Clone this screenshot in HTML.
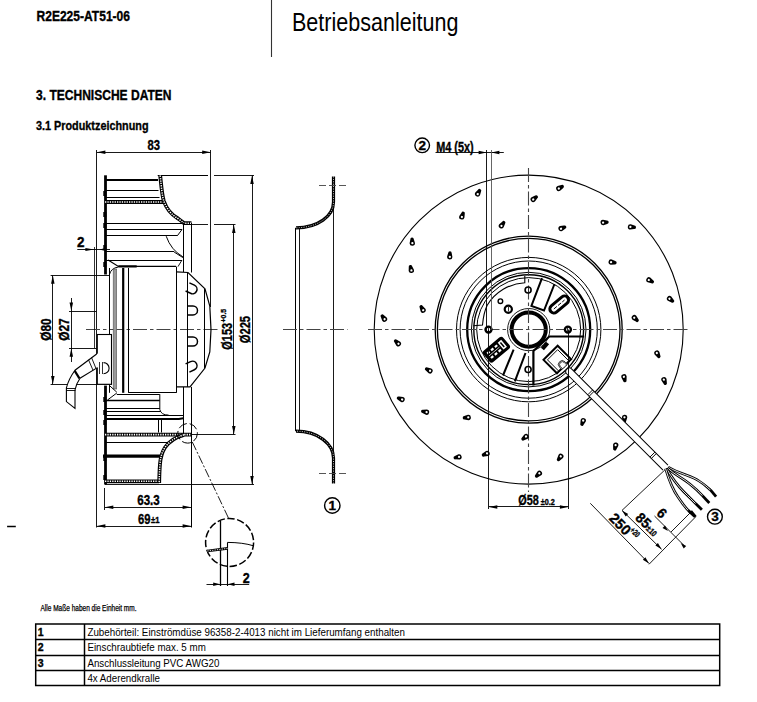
<!DOCTYPE html>
<html><head><meta charset="utf-8"><style>
html,body{margin:0;padding:0;background:#fff;}
body{width:757px;height:702px;overflow:hidden;position:relative;}
svg{position:absolute;left:0;top:0;font-family:"Liberation Sans",sans-serif;}
</style></head><body>
<svg width="757" height="702" viewBox="0 0 757 702">
<text x="36.5" y="21.3" font-size="14.3" font-weight="bold" stroke="#000" stroke-width="0.35" textLength="93.5" lengthAdjust="spacingAndGlyphs" text-anchor="start" fill="#000">R2E225-AT51-06</text>
<line x1="271.5" y1="0" x2="271.5" y2="57" stroke="#333" stroke-width="1.1" stroke-linecap="butt"/>
<text x="292" y="30.7" font-size="25" textLength="166.5" lengthAdjust="spacingAndGlyphs" text-anchor="start" fill="#000">Betriebsanleitung</text>
<text x="36" y="99.9" font-size="14.3" font-weight="bold" stroke="#000" stroke-width="0.35" textLength="135.5" lengthAdjust="spacingAndGlyphs" text-anchor="start" fill="#000">3. TECHNISCHE DATEN</text>
<text x="36" y="130" font-size="12.8" font-weight="bold" stroke="#000" stroke-width="0.35" textLength="112.5" lengthAdjust="spacingAndGlyphs" text-anchor="start" fill="#000">3.1 Produktzeichnung</text>
<line x1="96.5" y1="150" x2="96.5" y2="527.5" stroke="#000" stroke-width="0.9" stroke-linecap="butt"/>
<line x1="210.5" y1="150" x2="210.5" y2="307" stroke="#000" stroke-width="0.9" stroke-linecap="butt"/>
<line x1="96.9" y1="152.5" x2="210.7" y2="152.5" stroke="#000" stroke-width="0.9" stroke-linecap="butt"/>
<path d="M96.9 152.3 L105.4 150.55 L105.4 154.05Z" fill="#000"/>
<path d="M210.7 152.3 L202.2 154.05 L202.2 150.55Z" fill="#000"/>
<text x="153.8" y="150.4" font-size="14.3" font-weight="bold" stroke="#000" stroke-width="0.35" textLength="12.5" lengthAdjust="spacingAndGlyphs" text-anchor="middle" fill="#000">83</text>
<line x1="157.7" y1="175.5" x2="208" y2="175.5" stroke="#000" stroke-width="1.1" stroke-linecap="butt"/>
<line x1="214" y1="175.5" x2="254" y2="175.5" stroke="#000" stroke-width="0.9" stroke-linecap="butt"/>
<line x1="104.8" y1="484.5" x2="254" y2="484.5" stroke="#000" stroke-width="0.9" stroke-linecap="butt"/>
<line x1="252.5" y1="175.4" x2="252.5" y2="484.4" stroke="#000" stroke-width="0.9" stroke-linecap="butt"/>
<path d="M252 175.4 L253.75 183.9 L250.25 183.9Z" fill="#000"/>
<path d="M252 484.4 L250.25 475.9 L253.75 475.9Z" fill="#000"/>
<text x="249.9" y="343.3" font-size="14.3" font-weight="bold" stroke="#000" stroke-width="0.35" textLength="27.4" lengthAdjust="spacingAndGlyphs" text-anchor="start" transform="rotate(-90 249.9 343.3)" fill="#000">Ø225</text>
<line x1="191" y1="224.5" x2="208" y2="224.5" stroke="#000" stroke-width="0.9" stroke-linecap="butt"/>
<line x1="214" y1="224.5" x2="235.5" y2="224.5" stroke="#000" stroke-width="0.9" stroke-linecap="butt"/>
<line x1="191.3" y1="434.5" x2="235.5" y2="434.5" stroke="#000" stroke-width="0.9" stroke-linecap="butt"/>
<line x1="233.5" y1="224.4" x2="233.5" y2="434.4" stroke="#000" stroke-width="0.9" stroke-linecap="butt"/>
<path d="M233.8 224.4 L235.55 232.9 L232.05 232.9Z" fill="#000"/>
<path d="M233.8 434.4 L232.05 425.9 L235.55 425.9Z" fill="#000"/>
<text x="231.9" y="349.8" font-size="14.3" font-weight="bold" stroke="#000" stroke-width="0.35" textLength="27" lengthAdjust="spacingAndGlyphs" text-anchor="start" transform="rotate(-90 231.9 349.8)" fill="#000">Ø153</text>
<text x="226.4" y="322.4" font-size="8" font-weight="bold" stroke="#000" stroke-width="0.35" textLength="13.5" lengthAdjust="spacingAndGlyphs" text-anchor="start" transform="rotate(-90 226.4 322.4)" fill="#000">+0.5</text>
<line x1="86" y1="329.5" x2="218" y2="329.5" stroke="#444" stroke-width="1.1" stroke-dasharray="14 3 3.5 3" stroke-linecap="butt"/>
<line x1="105.5" y1="175.3" x2="105.5" y2="274.5" stroke="#000" stroke-width="2.8" stroke-linecap="butt"/>
<line x1="105.5" y1="385.6" x2="105.5" y2="484.4" stroke="#000" stroke-width="2.8" stroke-linecap="butt"/>
<rect x="103.3" y="191" width="3" height="5" fill="#000"/>
<rect x="103.3" y="212" width="3" height="5" fill="#000"/>
<rect x="103.3" y="223" width="3" height="5" fill="#000"/>
<rect x="103.3" y="245" width="3" height="5" fill="#000"/>
<rect x="103.3" y="262" width="3" height="5" fill="#000"/>
<rect x="103.3" y="397" width="3" height="5" fill="#000"/>
<rect x="103.3" y="410" width="3" height="5" fill="#000"/>
<rect x="103.3" y="420" width="3" height="5" fill="#000"/>
<rect x="103.3" y="456" width="3" height="5" fill="#000"/>
<rect x="103.3" y="475" width="3" height="5" fill="#000"/>
<line x1="105" y1="179.9" x2="158" y2="179.9" stroke="#000" stroke-width="2.0" stroke-linecap="butt"/>
<line x1="105" y1="190.5" x2="158.5" y2="190.5" stroke="#000" stroke-width="1.1" stroke-linecap="butt"/>
<line x1="105" y1="197.5" x2="159.5" y2="197.5" stroke="#000" stroke-width="1.1" stroke-linecap="butt"/>
<line x1="105" y1="202" x2="163" y2="202" stroke="#000" stroke-width="3.8" stroke-linecap="butt"/>
<line x1="105" y1="202" x2="163" y2="202" stroke="#fff" stroke-width="1.6" stroke-dasharray="1.3 1.1" stroke-linecap="butt"/>
<line x1="105" y1="223.5" x2="183.5" y2="223.5" stroke="#000" stroke-width="1.1" stroke-linecap="butt"/>
<line x1="105" y1="229.5" x2="182" y2="229.5" stroke="#000" stroke-width="1.1" stroke-linecap="butt"/>
<line x1="182" y1="229.5" x2="177.3" y2="235.8" stroke="#000" stroke-width="1.0" stroke-linecap="butt"/>
<line x1="105" y1="235.5" x2="177.3" y2="235.5" stroke="#000" stroke-width="1.1" stroke-linecap="butt"/>
<path d="M166.2 236.2 Q171 250 182.9 256.8" stroke="#000" stroke-width="1.0" fill="none" />
<line x1="105" y1="251.5" x2="174.1" y2="251.5" stroke="#000" stroke-width="1.1" stroke-linecap="butt"/>
<line x1="174.1" y1="252" x2="182.9" y2="257.6" stroke="#000" stroke-width="1.0" stroke-linecap="butt"/>
<line x1="105" y1="260.5" x2="182" y2="260.5" stroke="#000" stroke-width="1.1" stroke-linecap="butt"/>
<line x1="182" y1="260" x2="178" y2="266.6" stroke="#000" stroke-width="0.9" stroke-linecap="butt"/>
<path d="M160.2 175.5 C161.5 188 162 195 163.8 201 C166.5 209 172 215 178 218.5 C180.5 220.3 182.5 222 184 223.2 L191.5 223.2" stroke="#000" stroke-width="3.8" fill="none" />
<path d="M160.2 175.5 C161.5 188 162 195 163.8 201 C166.5 209 172 215 178 218.5 C180.5 220.3 182.5 222 184 223.2 L191.5 223.2" stroke="#fff" stroke-width="1.5" fill="none" stroke-dasharray="1.3 1.1" />
<line x1="183.5" y1="222.8" x2="183.5" y2="272" stroke="#000" stroke-width="1.0" stroke-linecap="butt"/>
<line x1="191.5" y1="222.8" x2="191.5" y2="272.5" stroke="#000" stroke-width="1.0" stroke-linecap="butt"/>
<line x1="191.5" y1="386.9" x2="191.5" y2="527.5" stroke="#000" stroke-width="1.0" stroke-linecap="butt"/>
<line x1="183.5" y1="387" x2="183.5" y2="434.4" stroke="#000" stroke-width="1.0" stroke-linecap="butt"/>
<path d="M108.1 260.1 L118.4 266.4 L176 266.4" stroke="#000" stroke-width="1.2" fill="none" />
<path d="M109.4 274.7 Q111 268 118.4 267" stroke="#000" stroke-width="1.0" fill="none" />
<line x1="118.4" y1="266.4" x2="136.7" y2="266.4" stroke="#000" stroke-width="2.2" stroke-linecap="butt"/>
<rect x="113.2" y="269" width="3.5" height="120" fill="#999" stroke="#555" stroke-width="0.6"/>
<line x1="109.5" y1="268" x2="109.5" y2="392.8" stroke="#000" stroke-width="1.0" stroke-linecap="butt"/>
<line x1="123.2" y1="268" x2="123.2" y2="392.8" stroke="#000" stroke-width="2.2" stroke-linecap="butt"/>
<line x1="128.5" y1="268" x2="128.5" y2="392.8" stroke="#000" stroke-width="1.0" stroke-linecap="butt"/>
<line x1="176.5" y1="266.6" x2="176.5" y2="392.8" stroke="#000" stroke-width="1.0" stroke-linecap="butt"/>
<line x1="128.4" y1="392.5" x2="176.4" y2="392.5" stroke="#000" stroke-width="1.0" stroke-linecap="butt"/>
<path d="M176.4 271.9 L188 272.5 L205 288.8 L209.8 306 L211 329.6 L209.8 352 L205 368 L190 386.9 L176.4 386.9" stroke="#000" stroke-width="1.2" fill="none" />
<line x1="187.5" y1="272.5" x2="187.5" y2="386.9" stroke="#000" stroke-width="1.0" stroke-linecap="butt"/>
<line x1="204.5" y1="288.8" x2="204.5" y2="368" stroke="#000" stroke-width="1.0" stroke-linecap="butt"/>
<g transform="translate(187.5 286.9) rotate(25)"><path d="M0 -4.5 L5.5 -4.5 A4.5 4.5 0 0 1 5.5 4.5 L0 4.5" fill="none" stroke="#000" stroke-width="1.5"/></g>
<g transform="translate(187.5 310.4) rotate(0)"><path d="M0 -4.5 L5.5 -4.5 A4.5 4.5 0 0 1 5.5 4.5 L0 4.5" fill="none" stroke="#000" stroke-width="1.5"/></g>
<g transform="translate(187.5 341.5) rotate(0)"><path d="M0 -4.5 L5.5 -4.5 A4.5 4.5 0 0 1 5.5 4.5 L0 4.5" fill="none" stroke="#000" stroke-width="1.5"/></g>
<g transform="translate(187.5 368) rotate(-25)"><path d="M0 -4.5 L5.5 -4.5 A4.5 4.5 0 0 1 5.5 4.5 L0 4.5" fill="none" stroke="#000" stroke-width="1.5"/></g>
<line x1="109.5" y1="385.6" x2="116.8" y2="392.2" stroke="#000" stroke-width="1.0" stroke-linecap="butt"/>
<line x1="116.8" y1="394.5" x2="159.7" y2="394.5" stroke="#000" stroke-width="1.0" stroke-linecap="butt"/>
<line x1="107.5" y1="400" x2="116.8" y2="393" stroke="#000" stroke-width="1.0" stroke-linecap="butt"/>
<line x1="105" y1="400.5" x2="159.8" y2="400.5" stroke="#000" stroke-width="1.3" stroke-linecap="butt"/>
<path d="M159.8 394.2 L159.8 409.5 Q161 415.1 168.6 415.1" stroke="#000" stroke-width="1.0" fill="none" />
<line x1="105" y1="408.5" x2="159.8" y2="408.5" stroke="#000" stroke-width="1.1" stroke-linecap="butt"/>
<line x1="105" y1="411.5" x2="160.5" y2="411.5" stroke="#000" stroke-width="1.1" stroke-linecap="butt"/>
<line x1="105" y1="415.5" x2="183.6" y2="415.5" stroke="#000" stroke-width="1.1" stroke-linecap="butt"/>
<path d="M105 419 L178.9 419 L183.3 418.2" stroke="#000" stroke-width="2.0" fill="none" />
<line x1="158.5" y1="419.5" x2="158.5" y2="432.5" stroke="#000" stroke-width="1.0" stroke-linecap="butt"/>
<line x1="161.5" y1="419.5" x2="161.5" y2="432.5" stroke="#000" stroke-width="1.0" stroke-linecap="butt"/>
<line x1="105" y1="434.6" x2="191" y2="434.6" stroke="#000" stroke-width="3.8" stroke-linecap="butt"/>
<line x1="105" y1="434.6" x2="191" y2="434.6" stroke="#fff" stroke-width="1.6" stroke-dasharray="1.3 1.1" stroke-linecap="butt"/>
<line x1="105" y1="442.5" x2="170" y2="442.5" stroke="#000" stroke-width="1.1" stroke-linecap="butt"/>
<line x1="103" y1="456.2" x2="160.3" y2="456.2" stroke="#000" stroke-width="3.2" stroke-linecap="butt"/>
<line x1="105" y1="481.3" x2="159" y2="481.3" stroke="#000" stroke-width="3.8" stroke-linecap="butt"/>
<line x1="105" y1="481.3" x2="159" y2="481.3" stroke="#fff" stroke-width="1.6" stroke-dasharray="1.3 1.1" stroke-linecap="butt"/>
<path d="M184 434.8 C176 437 169 441.5 165 447.5 C161.5 453 160.5 458 160 464 C159.5 470 159.3 476 159.2 483" stroke="#000" stroke-width="3.8" fill="none" />
<path d="M184 434.8 C176 437 169 441.5 165 447.5 C161.5 453 160.5 458 160 464 C159.5 470 159.3 476 159.2 483" stroke="#fff" stroke-width="1.5" fill="none" stroke-dasharray="1.3 1.1" />
<line x1="94.5" y1="247" x2="94.5" y2="348.2" stroke="#000" stroke-width="0.8" stroke-linecap="butt"/>
<line x1="77.3" y1="249.5" x2="110" y2="249.5" stroke="#000" stroke-width="0.9" stroke-linecap="butt"/>
<path d="M94 249.5 L85.4 250.95 L85.4 248.05Z" fill="#000"/>
<path d="M99.2 249.5 L105.7 248.05 L105.7 250.95Z" fill="#000"/>
<text x="80.8" y="247.3" font-size="14.3" font-weight="bold" stroke="#000" stroke-width="0.35" textLength="7.5" lengthAdjust="spacingAndGlyphs" text-anchor="middle" fill="#000">2</text>
<line x1="50.6" y1="275.5" x2="109.4" y2="275.5" stroke="#000" stroke-width="0.9" stroke-linecap="butt"/>
<line x1="50.6" y1="384.5" x2="112" y2="384.5" stroke="#000" stroke-width="0.9" stroke-linecap="butt"/>
<line x1="52.5" y1="275.2" x2="52.5" y2="384.4" stroke="#000" stroke-width="0.9" stroke-linecap="butt"/>
<path d="M52.8 275.2 L54.55 283.7 L51.05 283.7Z" fill="#000"/>
<path d="M52.8 384.4 L51.05 375.9 L54.55 375.9Z" fill="#000"/>
<text x="50.8" y="340.8" font-size="14.3" font-weight="bold" stroke="#000" stroke-width="0.35" textLength="22.5" lengthAdjust="spacingAndGlyphs" text-anchor="start" transform="rotate(-90 50.8 340.8)" fill="#000">Ø80</text>
<line x1="69" y1="311.5" x2="96.4" y2="311.5" stroke="#000" stroke-width="0.9" stroke-linecap="butt"/>
<line x1="69" y1="348.5" x2="96.4" y2="348.5" stroke="#000" stroke-width="0.9" stroke-linecap="butt"/>
<line x1="71.5" y1="298" x2="71.5" y2="362" stroke="#000" stroke-width="0.9" stroke-linecap="butt"/>
<path d="M71.3 311 L69.55 302.5 L73.05 302.5Z" fill="#000"/>
<path d="M71.3 348.2 L73.05 356.7 L69.55 356.7Z" fill="#000"/>
<text x="69.3" y="340.8" font-size="14.3" font-weight="bold" stroke="#000" stroke-width="0.35" textLength="22.5" lengthAdjust="spacingAndGlyphs" text-anchor="start" transform="rotate(-90 69.3 340.8)" fill="#000">Ø27</text>
<rect x="97.3" y="334.5" width="14.2" height="49.8" fill="#fff" stroke="#000" stroke-width="1.1"/>
<path d="M103.5 362.6 A5.6 5.6 0 1 1 103.5 373.8" stroke="#000" stroke-width="1.1" fill="none" />
<line x1="99.5" y1="362" x2="99.5" y2="374" stroke="#000" stroke-width="0.8" stroke-linecap="butt"/>
<line x1="102.5" y1="362" x2="102.5" y2="374" stroke="#000" stroke-width="0.8" stroke-linecap="butt"/>
<path d="M97 353.7 L75 370.2 Q68.7 378.8 66.4 387.9 L66.4 401.6 L75 408.4 L75 390 Q76.1 383.9 80 378.2 L97.8 367.4" stroke="#000" stroke-width="1.1" fill="#fff" />
<line x1="97.5" y1="353.7" x2="97.5" y2="367.4" stroke="#fff" stroke-width="1.2" stroke-linecap="butt"/>
<line x1="88.5" y1="359.8" x2="93" y2="370.2" stroke="#000" stroke-width="0.9" stroke-linecap="butt"/>
<line x1="91.5" y1="357.5" x2="96" y2="368.5" stroke="#000" stroke-width="0.9" stroke-linecap="butt"/>
<line x1="74.6" y1="370.6" x2="79.4" y2="378.4" stroke="#000" stroke-width="2.2" stroke-linecap="butt"/>
<line x1="66.4" y1="388.5" x2="76" y2="388.5" stroke="#000" stroke-width="0.9" stroke-linecap="butt"/>
<line x1="66.4" y1="390.5" x2="75.5" y2="390.5" stroke="#000" stroke-width="0.9" stroke-linecap="butt"/>
<line x1="104.5" y1="488" x2="104.5" y2="510" stroke="#000" stroke-width="0.9" stroke-linecap="butt"/>
<line x1="104.8" y1="507.5" x2="192" y2="507.5" stroke="#000" stroke-width="0.9" stroke-linecap="butt"/>
<path d="M104.8 507.2 L113.3 505.45 L113.3 508.95Z" fill="#000"/>
<path d="M191.1 507.2 L182.6 508.95 L182.6 505.45Z" fill="#000"/>
<text x="148.5" y="505" font-size="14.3" font-weight="bold" stroke="#000" stroke-width="0.35" textLength="22.5" lengthAdjust="spacingAndGlyphs" text-anchor="middle" fill="#000">63.3</text>
<line x1="96.9" y1="526.5" x2="191.1" y2="526.5" stroke="#000" stroke-width="0.9" stroke-linecap="butt"/>
<path d="M96.9 526 L105.4 524.25 L105.4 527.75Z" fill="#000"/>
<path d="M191.1 526 L182.6 527.75 L182.6 524.25Z" fill="#000"/>
<text x="138" y="523.8" font-size="14.3" font-weight="bold" stroke="#000" stroke-width="0.35" textLength="12.5" lengthAdjust="spacingAndGlyphs" text-anchor="start" fill="#000">69</text>
<text x="151" y="523" font-size="8.5" font-weight="bold" stroke="#000" stroke-width="0.35" textLength="8.5" lengthAdjust="spacingAndGlyphs" text-anchor="start" fill="#000">±1</text>
<circle cx="187.6" cy="433.3" r="9.8" stroke="#000" stroke-width="1.0" fill="none" stroke-dasharray="9 3"/>
<line x1="192.3" y1="442" x2="228.7" y2="518.5" stroke="#000" stroke-width="0.9" stroke-dasharray="9 2 2 2" stroke-linecap="butt"/>
<circle cx="229.6" cy="542.4" r="24" stroke="#000" stroke-width="1.5" fill="none" stroke-dasharray="7.5 2.5"/>
<line x1="220.5" y1="521" x2="220.5" y2="586" stroke="#000" stroke-width="1.3" stroke-linecap="butt"/>
<line x1="227.5" y1="542.4" x2="227.5" y2="586" stroke="#000" stroke-width="1.1" stroke-linecap="butt"/>
<path d="M227.5 542.4 Q243 542.5 253.5 545.8" stroke="#000" stroke-width="1.0" fill="none" />
<line x1="207.4" y1="551" x2="227.5" y2="548.4" stroke="#000" stroke-width="2.6" stroke-linecap="butt"/>
<line x1="207.4" y1="551" x2="227.5" y2="548.4" stroke="#fff" stroke-width="0.9" stroke-dasharray="1.2 1.2" stroke-linecap="butt"/>
<line x1="206.5" y1="584.5" x2="249.2" y2="584.5" stroke="#000" stroke-width="0.9" stroke-linecap="butt"/>
<path d="M220.2 584.3 L213.2 586.05 L213.2 582.55Z" fill="#000"/>
<path d="M227.5 584.3 L234.5 582.55 L234.5 586.05Z" fill="#000"/>
<text x="246.2" y="582.6" font-size="14.3" font-weight="bold" stroke="#000" stroke-width="0.35" textLength="7" lengthAdjust="spacingAndGlyphs" text-anchor="middle" fill="#000">2</text>
<line x1="333.5" y1="203" x2="333.5" y2="456" stroke="#000" stroke-width="0.9" stroke-linecap="butt"/>
<path d="M333.5 176.5 L333.5 202 C333.5 216 318 227.8 296 227.8" stroke="#000" stroke-width="3.2" fill="none" />
<path d="M333.5 176.5 L333.5 202 C333.5 216 318 227.8 296 227.8" stroke="#fff" stroke-width="0.8" fill="none" stroke-dasharray="1 1.4" />
<path d="M333.5 483.6 L333.5 458 C333.5 444 318 431.2 296 431.2" stroke="#000" stroke-width="3.2" fill="none" />
<path d="M333.5 483.6 L333.5 458 C333.5 444 318 431.2 296 431.2" stroke="#fff" stroke-width="0.8" fill="none" stroke-dasharray="1 1.4" />
<line x1="295.5" y1="227.8" x2="295.5" y2="431.2" stroke="#000" stroke-width="1.0" stroke-linecap="butt"/>
<line x1="299.5" y1="227.8" x2="299.5" y2="431.2" stroke="#000" stroke-width="0.9" stroke-linecap="butt"/>
<line x1="319" y1="185.5" x2="347.3" y2="185.5" stroke="#444" stroke-width="0.9" stroke-dasharray="7 3" stroke-linecap="butt"/>
<line x1="319" y1="473.5" x2="347.3" y2="473.5" stroke="#444" stroke-width="0.9" stroke-dasharray="7 3" stroke-linecap="butt"/>
<line x1="283" y1="329.5" x2="347.5" y2="329.5" stroke="#444" stroke-width="1.1" stroke-dasharray="14 3 3.5 3" stroke-linecap="butt"/>
<circle cx="332.3" cy="505.5" r="7.7" stroke="#000" stroke-width="1.4" fill="none"/>
<text x="332.3" y="510.3" font-size="13.5" font-weight="bold" stroke="#000" stroke-width="0.35" text-anchor="middle" fill="#000">1</text>
<circle cx="528.7" cy="329.6" r="154.5" stroke="#000" stroke-width="1.1" fill="none"/>
<circle cx="528.7" cy="329.6" r="91.3" stroke="#000" stroke-width="1.3" fill="none"/>
<circle cx="528.7" cy="329.6" r="93.5" stroke="#000" stroke-width="1.3" fill="none"/>
<circle cx="528.7" cy="329.6" r="72.2" stroke="#000" stroke-width="1.0" fill="none"/>
<circle cx="528.7" cy="329.6" r="68.6" stroke="#000" stroke-width="1.0" fill="none"/>
<circle cx="528.7" cy="329.6" r="61.5" stroke="#000" stroke-width="2.3" fill="none"/>
<circle cx="528.7" cy="329.6" r="57.3" stroke="#000" stroke-width="1.0" fill="none"/>
<circle cx="528.7" cy="329.6" r="54.9" stroke="#000" stroke-width="1.4" fill="none"/>
<circle cx="528.7" cy="329.6" r="52" stroke="#000" stroke-width="1.0" fill="none"/>
<circle cx="528.7" cy="329.6" r="21.1" stroke="#000" stroke-width="0.9" fill="none"/>
<circle cx="528.7" cy="329.6" r="17.1" stroke="#000" stroke-width="4" fill="none"/>
<line x1="368" y1="329.5" x2="690" y2="329.5" stroke="#444" stroke-width="1.1" stroke-dasharray="14 3 3.5 3" stroke-linecap="butt"/>
<line x1="528.5" y1="168" x2="528.5" y2="492" stroke="#444" stroke-width="1.1" stroke-dasharray="14 3 3.5 3" stroke-linecap="butt"/>
<g transform="translate(478.3 192.8) rotate(-60.22) scale(1.08)"><path d="M-1.2 -2.5 A2.5 2.5 0 1 0 -1.2 2.5 L2.3 1.6 A1.6 1.6 0 0 0 2.3 -1.6 Z" fill="#000"/><circle cx="-1.3" cy="0.1" r="1.05" fill="#fff"/></g>
<g transform="translate(462.3 215.6) rotate(-70.22) scale(1.08)"><path d="M-1.2 -2.5 A2.5 2.5 0 1 0 -1.2 2.5 L2.3 1.6 A1.6 1.6 0 0 0 2.3 -1.6 Z" fill="#000"/><circle cx="-1.3" cy="0.1" r="1.05" fill="#fff"/></g>
<g transform="translate(502.2 224.7) rotate(-54.18) scale(1.08)"><path d="M-1.2 -2.5 A2.5 2.5 0 1 0 -1.2 2.5 L2.3 1.6 A1.6 1.6 0 0 0 2.3 -1.6 Z" fill="#000"/><circle cx="-1.3" cy="0.1" r="1.05" fill="#fff"/></g>
<g transform="translate(412.2 241.8) rotate(-93) scale(1.08)"><path d="M-1.2 -2.5 A2.5 2.5 0 1 0 -1.2 2.5 L2.3 1.6 A1.6 1.6 0 0 0 2.3 -1.6 Z" fill="#000"/><circle cx="-1.3" cy="0.1" r="1.05" fill="#fff"/></g>
<g transform="translate(449.8 255.5) rotate(-86.8) scale(1.08)"><path d="M-1.2 -2.5 A2.5 2.5 0 1 0 -1.2 2.5 L2.3 1.6 A1.6 1.6 0 0 0 2.3 -1.6 Z" fill="#000"/><circle cx="-1.3" cy="0.1" r="1.05" fill="#fff"/></g>
<g transform="translate(411 269.1) rotate(-102.8) scale(1.08)"><path d="M-1.2 -2.5 A2.5 2.5 0 1 0 -1.2 2.5 L2.3 1.6 A1.6 1.6 0 0 0 2.3 -1.6 Z" fill="#000"/><circle cx="-1.3" cy="0.1" r="1.05" fill="#fff"/></g>
<g transform="translate(422.4 309) rotate(-119.03) scale(1.08)"><path d="M-1.2 -2.5 A2.5 2.5 0 1 0 -1.2 2.5 L2.3 1.6 A1.6 1.6 0 0 0 2.3 -1.6 Z" fill="#000"/><circle cx="-1.3" cy="0.1" r="1.05" fill="#fff"/></g>
<g transform="translate(383.7 318.1) rotate(-125.47) scale(1.08)"><path d="M-1.2 -2.5 A2.5 2.5 0 1 0 -1.2 2.5 L2.3 1.6 A1.6 1.6 0 0 0 2.3 -1.6 Z" fill="#000"/><circle cx="-1.3" cy="0.1" r="1.05" fill="#fff"/></g>
<g transform="translate(560 187.8) rotate(-27.55) scale(1.08)"><path d="M-1.2 -2.5 A2.5 2.5 0 1 0 -1.2 2.5 L2.3 1.6 A1.6 1.6 0 0 0 2.3 -1.6 Z" fill="#000"/><circle cx="-1.3" cy="0.1" r="1.05" fill="#fff"/></g>
<g transform="translate(534.3 198.5) rotate(-37.55) scale(1.08)"><path d="M-1.2 -2.5 A2.5 2.5 0 1 0 -1.2 2.5 L2.3 1.6 A1.6 1.6 0 0 0 2.3 -1.6 Z" fill="#000"/><circle cx="-1.3" cy="0.1" r="1.05" fill="#fff"/></g>
<g transform="translate(604.5 222.4) rotate(-4.74) scale(1.08)"><path d="M-1.2 -2.5 A2.5 2.5 0 1 0 -1.2 2.5 L2.3 1.6 A1.6 1.6 0 0 0 2.3 -1.6 Z" fill="#000"/><circle cx="-1.3" cy="0.1" r="1.05" fill="#fff"/></g>
<g transform="translate(631.8 227) rotate(5.14) scale(1.08)"><path d="M-1.2 -2.5 A2.5 2.5 0 1 0 -1.2 2.5 L2.3 1.6 A1.6 1.6 0 0 0 2.3 -1.6 Z" fill="#000"/><circle cx="-1.3" cy="0.1" r="1.05" fill="#fff"/></g>
<g transform="translate(562.3 228.1) rotate(-21.68) scale(1.08)"><path d="M-1.2 -2.5 A2.5 2.5 0 1 0 -1.2 2.5 L2.3 1.6 A1.6 1.6 0 0 0 2.3 -1.6 Z" fill="#000"/><circle cx="-1.3" cy="0.1" r="1.05" fill="#fff"/></g>
<g transform="translate(612.5 262.3) rotate(11.23) scale(1.08)"><path d="M-1.2 -2.5 A2.5 2.5 0 1 0 -1.2 2.5 L2.3 1.6 A1.6 1.6 0 0 0 2.3 -1.6 Z" fill="#000"/><circle cx="-1.3" cy="0.1" r="1.05" fill="#fff"/></g>
<g transform="translate(650.1 280.5) rotate(27.98) scale(1.08)"><path d="M-1.2 -2.5 A2.5 2.5 0 1 0 -1.2 2.5 L2.3 1.6 A1.6 1.6 0 0 0 2.3 -1.6 Z" fill="#000"/><circle cx="-1.3" cy="0.1" r="1.05" fill="#fff"/></g>
<g transform="translate(670.6 299.5) rotate(38.02) scale(1.08)"><path d="M-1.2 -2.5 A2.5 2.5 0 1 0 -1.2 2.5 L2.3 1.6 A1.6 1.6 0 0 0 2.3 -1.6 Z" fill="#000"/><circle cx="-1.3" cy="0.1" r="1.05" fill="#fff"/></g>
<g transform="translate(635.3 318.6) rotate(44.11) scale(1.08)"><path d="M-1.2 -2.5 A2.5 2.5 0 1 0 -1.2 2.5 L2.3 1.6 A1.6 1.6 0 0 0 2.3 -1.6 Z" fill="#000"/><circle cx="-1.3" cy="0.1" r="1.05" fill="#fff"/></g>
<g transform="translate(397.4 342.8) rotate(224.26) scale(1.08)"><path d="M-1.2 -2.5 A2.5 2.5 0 1 0 -1.2 2.5 L2.3 1.6 A1.6 1.6 0 0 0 2.3 -1.6 Z" fill="#000"/><circle cx="-1.3" cy="0.1" r="1.05" fill="#fff"/></g>
<g transform="translate(428.8 370.2) rotate(207.88) scale(1.08)"><path d="M-1.2 -2.5 A2.5 2.5 0 1 0 -1.2 2.5 L2.3 1.6 A1.6 1.6 0 0 0 2.3 -1.6 Z" fill="#000"/><circle cx="-1.3" cy="0.1" r="1.05" fill="#fff"/></g>
<g transform="translate(400.8 399.1) rotate(201.48) scale(1.08)"><path d="M-1.2 -2.5 A2.5 2.5 0 1 0 -1.2 2.5 L2.3 1.6 A1.6 1.6 0 0 0 2.3 -1.6 Z" fill="#000"/><circle cx="-1.3" cy="0.1" r="1.05" fill="#fff"/></g>
<g transform="translate(425.2 411.9) rotate(191.51) scale(1.08)"><path d="M-1.2 -2.5 A2.5 2.5 0 1 0 -1.2 2.5 L2.3 1.6 A1.6 1.6 0 0 0 2.3 -1.6 Z" fill="#000"/><circle cx="-1.3" cy="0.1" r="1.05" fill="#fff"/></g>
<g transform="translate(466.9 417.6) rotate(175.08) scale(1.08)"><path d="M-1.2 -2.5 A2.5 2.5 0 1 0 -1.2 2.5 L2.3 1.6 A1.6 1.6 0 0 0 2.3 -1.6 Z" fill="#000"/><circle cx="-1.3" cy="0.1" r="1.05" fill="#fff"/></g>
<g transform="translate(525 437.4) rotate(141.97) scale(1.08)"><path d="M-1.2 -2.5 A2.5 2.5 0 1 0 -1.2 2.5 L2.3 1.6 A1.6 1.6 0 0 0 2.3 -1.6 Z" fill="#000"/><circle cx="-1.3" cy="0.1" r="1.05" fill="#fff"/></g>
<g transform="translate(485.8 454) rotate(159.03) scale(1.08)"><path d="M-1.2 -2.5 A2.5 2.5 0 1 0 -1.2 2.5 L2.3 1.6 A1.6 1.6 0 0 0 2.3 -1.6 Z" fill="#000"/><circle cx="-1.3" cy="0.1" r="1.05" fill="#fff"/></g>
<g transform="translate(457.7 457.2) rotate(169.09) scale(1.08)"><path d="M-1.2 -2.5 A2.5 2.5 0 1 0 -1.2 2.5 L2.3 1.6 A1.6 1.6 0 0 0 2.3 -1.6 Z" fill="#000"/><circle cx="-1.3" cy="0.1" r="1.05" fill="#fff"/></g>
<g transform="translate(657.6 354.2) rotate(60.8) scale(1.08)"><path d="M-1.2 -2.5 A2.5 2.5 0 1 0 -1.2 2.5 L2.3 1.6 A1.6 1.6 0 0 0 2.3 -1.6 Z" fill="#000"/><circle cx="-1.3" cy="0.1" r="1.05" fill="#fff"/></g>
<g transform="translate(624.3 378.1) rotate(76.9) scale(1.08)"><path d="M-1.2 -2.5 A2.5 2.5 0 1 0 -1.2 2.5 L2.3 1.6 A1.6 1.6 0 0 0 2.3 -1.6 Z" fill="#000"/><circle cx="-1.3" cy="0.1" r="1.05" fill="#fff"/></g>
<g transform="translate(664.4 380.9) rotate(70.71) scale(1.08)"><path d="M-1.2 -2.5 A2.5 2.5 0 1 0 -1.2 2.5 L2.3 1.6 A1.6 1.6 0 0 0 2.3 -1.6 Z" fill="#000"/><circle cx="-1.3" cy="0.1" r="1.05" fill="#fff"/></g>
<g transform="translate(582.8 421.9) rotate(109.62) scale(1.08)"><path d="M-1.2 -2.5 A2.5 2.5 0 1 0 -1.2 2.5 L2.3 1.6 A1.6 1.6 0 0 0 2.3 -1.6 Z" fill="#000"/><circle cx="-1.3" cy="0.1" r="1.05" fill="#fff"/></g>
<g transform="translate(624.5 418.7) rotate(92.92) scale(1.08)"><path d="M-1.2 -2.5 A2.5 2.5 0 1 0 -1.2 2.5 L2.3 1.6 A1.6 1.6 0 0 0 2.3 -1.6 Z" fill="#000"/><circle cx="-1.3" cy="0.1" r="1.05" fill="#fff"/></g>
<g transform="translate(615.4 446.5) rotate(103.44) scale(1.08)"><path d="M-1.2 -2.5 A2.5 2.5 0 1 0 -1.2 2.5 L2.3 1.6 A1.6 1.6 0 0 0 2.3 -1.6 Z" fill="#000"/><circle cx="-1.3" cy="0.1" r="1.05" fill="#fff"/></g>
<g transform="translate(560 457.5) rotate(126.25) scale(1.08)"><path d="M-1.2 -2.5 A2.5 2.5 0 1 0 -1.2 2.5 L2.3 1.6 A1.6 1.6 0 0 0 2.3 -1.6 Z" fill="#000"/><circle cx="-1.3" cy="0.1" r="1.05" fill="#fff"/></g>
<g transform="translate(538.4 474.3) rotate(136.16) scale(1.08)"><path d="M-1.2 -2.5 A2.5 2.5 0 1 0 -1.2 2.5 L2.3 1.6 A1.6 1.6 0 0 0 2.3 -1.6 Z" fill="#000"/><circle cx="-1.3" cy="0.1" r="1.05" fill="#fff"/></g>
<path d="M524.8 276.1 L524.8 282.7 A47 47 0 0 0 487.2 305.2 Q483.5 313 482.5 325 L473.3 325.7" stroke="#000" stroke-width="1.1" fill="none" />
<path d="M584.2 336.5 L549.3 336.5 L533.4 351 L533.4 385.4" stroke="#000" stroke-width="2.2" fill="none" />
<path d="M542 278.1 L531.4 305.9 L544 310.5 L554.5 284" stroke="#000" stroke-width="2.0" fill="none" />
<path d="M513.6 349.7 L503 375.5" stroke="#000" stroke-width="2.0" fill="none" />
<path d="M525.5 353 L514.9 381.4" stroke="#000" stroke-width="2.0" fill="none" />
<g transform="translate(559.2 304.5) rotate(-40)"><rect x="-11" y="-4" width="22" height="8" rx="4" fill="none" stroke="#000" stroke-width="3"/><line x1="-7" y1="0" x2="7" y2="0" stroke="#000" stroke-width="0.9" stroke-dasharray="4 1.5"/></g>
<g transform="translate(496.4 349.7) rotate(-40)"><rect x="-13" y="-7.5" width="26" height="15" rx="3" fill="#000"/><rect x="-9.5" y="-4" width="3" height="2.2" fill="#fff"/><rect x="-9.5" y="1.8" width="3" height="2.2" fill="#fff"/><rect x="-4.5" y="-4" width="3" height="2.2" fill="#fff"/><rect x="-4.5" y="1.8" width="3" height="2.2" fill="#fff"/><rect x="0.5" y="-4" width="3" height="2.2" fill="#fff"/><rect x="0.5" y="1.8" width="3" height="2.2" fill="#fff"/><rect x="5.5" y="-4.5" width="4.5" height="9" fill="#fff"/><rect x="7" y="-3" width="1.5" height="6" fill="#000"/><line x1="-10" y1="0" x2="4" y2="0" stroke="#fff" stroke-width="0.7"/></g>
<circle cx="528.1" cy="290" r="3" stroke="#000" stroke-width="1.6" fill="#fff"/>
<circle cx="528.1" cy="369.5" r="3" stroke="#000" stroke-width="1.6" fill="#fff"/>
<circle cx="500.4" cy="301.2" r="2.3" stroke="#000" stroke-width="1.4" fill="#fff"/>
<circle cx="508.3" cy="309.2" r="3.6" stroke="#000" stroke-width="2.2" fill="#fff"/>
<circle cx="488.5" cy="329.6" r="3" stroke="#000" stroke-width="2.4" fill="#fff"/>
<circle cx="567.9" cy="329.6" r="3" stroke="#000" stroke-width="2.4" fill="#fff"/>
<line x1="528.5" y1="287.8" x2="528.5" y2="292.2" stroke="#000" stroke-width="0.8" stroke-linecap="butt"/>
<line x1="528.5" y1="367.3" x2="528.5" y2="371.7" stroke="#000" stroke-width="0.8" stroke-linecap="butt"/>
<line x1="508.5" y1="307" x2="508.5" y2="311.4" stroke="#000" stroke-width="0.8" stroke-linecap="butt"/>
<line x1="488.5" y1="327.4" x2="488.5" y2="331.8" stroke="#000" stroke-width="0.8" stroke-linecap="butt"/>
<line x1="567.5" y1="327.4" x2="567.5" y2="331.8" stroke="#000" stroke-width="0.8" stroke-linecap="butt"/>
<rect x="543" y="342" width="4" height="8" transform="rotate(40 545 346)" fill="#000"/>
<g transform="translate(557.3 359.5) rotate(45)"><path d="M9.5 -3.8 L9.5 -10 L-9.5 -10 L-9.5 10 L9.5 10 L9.5 3.8" fill="#fff" stroke="#000" stroke-width="2"/><path d="M9.5 -7.2 L-6.7 -7.2 L-6.7 7.2 L9.5 7.2" fill="none" stroke="#000" stroke-width="0.9"/><path d="M153 -3.5 L17 -3.5 A3.5 3.5 0 0 0 17 3.5 L153 3.5" fill="#fff" stroke="#000" stroke-width="1.0"/><path d="M10 -3.8 L7 -3.8 A3.8 3.8 0 0 0 7 3.8 L10 3.8" fill="none" stroke="#000" stroke-width="0.8"/><path d="M10 -2.8 L7.2 -2.8 A2.8 2.8 0 0 0 7.2 2.8 L10 2.8" fill="none" stroke="#000" stroke-width="0.7"/><line x1="46.5" y1="-3.5" x2="46.5" y2="3.5" stroke="#000" stroke-width="0.9"/><line x1="48.5" y1="-3.5" x2="48.5" y2="3.5" stroke="#000" stroke-width="0.9"/><line x1="134.5" y1="-3.5" x2="134.5" y2="3.5" stroke="#000" stroke-width="0.9"/><line x1="136.5" y1="-3.5" x2="136.5" y2="3.5" stroke="#000" stroke-width="0.9"/></g>
<path d="M668.2 467.1 C680 474 692 476 699 481 C704 484 707 487 710.4 490" stroke="#000" stroke-width="2.6" fill="none" />
<path d="M668.2 467.1 C680 474 692 476 699 481 C704 484 707 487 710.4 490" stroke="#fff" stroke-width="0.9" fill="none" />
<line x1="710.4" y1="489.9" x2="716.1" y2="496.7" stroke="#000" stroke-width="2.8" stroke-linecap="butt"/>
<path d="M667.5 468 C675 475 683 478 691 485 C696 489 699 492 702.4 495.6" stroke="#000" stroke-width="2.6" fill="none" />
<path d="M667.5 468 C675 475 683 478 691 485 C696 489 699 492 702.4 495.6" stroke="#fff" stroke-width="0.9" fill="none" />
<line x1="702.4" y1="495.6" x2="709.3" y2="503" stroke="#000" stroke-width="2.8" stroke-linecap="butt"/>
<path d="M666.5 468.5 C672 478 678 486 684 492 C689 497 692 500 695.6 503.6" stroke="#000" stroke-width="2.6" fill="none" />
<path d="M666.5 468.5 C672 478 678 486 684 492 C689 497 692 500 695.6 503.6" stroke="#fff" stroke-width="0.9" fill="none" />
<line x1="695.6" y1="503.6" x2="701.9" y2="509.8" stroke="#000" stroke-width="2.8" stroke-linecap="butt"/>
<path d="M665.5 468.5 C669 480 673 490 678 497 C682 503 685 507 688.2 510.4" stroke="#000" stroke-width="2.6" fill="none" />
<path d="M665.5 468.5 C669 480 673 490 678 497 C682 503 685 507 688.2 510.4" stroke="#fff" stroke-width="0.9" fill="none" />
<line x1="688.2" y1="510.4" x2="695" y2="516.7" stroke="#000" stroke-width="2.8" stroke-linecap="butt"/>
<circle cx="422.2" cy="145.3" r="7.3" stroke="#000" stroke-width="1.4" fill="none"/>
<text x="422.2" y="150.3" font-size="13.5" font-weight="bold" stroke="#000" stroke-width="0.35" text-anchor="middle" fill="#000">2</text>
<text x="436.2" y="151.8" font-size="14.3" font-weight="bold" stroke="#000" stroke-width="0.35" textLength="37.5" lengthAdjust="spacingAndGlyphs" text-anchor="start" fill="#000">M4 (5x)</text>
<line x1="435.5" y1="152.5" x2="503.8" y2="152.5" stroke="#000" stroke-width="0.9" stroke-linecap="butt"/>
<path d="M486.6 152.5 L478.6 154.25 L478.6 150.75Z" fill="#000"/>
<path d="M491.4 152.5 L499.4 150.75 L499.4 154.25Z" fill="#000"/>
<line x1="486.5" y1="150" x2="486.5" y2="329.6" stroke="#000" stroke-width="0.9" stroke-linecap="butt"/>
<line x1="491.5" y1="150" x2="491.5" y2="329.6" stroke="#555" stroke-width="0.9" stroke-linecap="butt"/>
<line x1="488.5" y1="329.6" x2="488.5" y2="509" stroke="#000" stroke-width="0.9" stroke-linecap="butt"/>
<line x1="568.5" y1="329.6" x2="568.5" y2="509" stroke="#000" stroke-width="0.9" stroke-linecap="butt"/>
<line x1="488.8" y1="506.5" x2="568.4" y2="506.5" stroke="#000" stroke-width="0.9" stroke-linecap="butt"/>
<path d="M488.8 506.9 L497.3 505.15 L497.3 508.65Z" fill="#000"/>
<path d="M568.4 506.9 L559.9 508.65 L559.9 505.15Z" fill="#000"/>
<text x="518.3" y="504.5" font-size="14.3" font-weight="bold" stroke="#000" stroke-width="0.35" textLength="20.5" lengthAdjust="spacingAndGlyphs" text-anchor="start" fill="#000">Ø58</text>
<text x="540.8" y="504.5" font-size="8.5" font-weight="bold" stroke="#000" stroke-width="0.35" textLength="14" lengthAdjust="spacingAndGlyphs" text-anchor="start" fill="#000">±0.2</text>
<line x1="664.8" y1="470" x2="622" y2="510.4" stroke="#000" stroke-width="0.9" stroke-linecap="butt"/>
<line x1="622" y1="510.4" x2="661.6" y2="549.3" stroke="#000" stroke-width="0.9" stroke-linecap="butt"/>
<path d="M622 510.4 L628.19 514.11 L625.71 516.59Z" fill="#000"/>
<path d="M661.6 549.3 L655.41 545.59 L657.89 543.11Z" fill="#000"/>
<line x1="590.3" y1="503.3" x2="649" y2="563.5" stroke="#000" stroke-width="0.9" stroke-linecap="butt"/>
<path d="M649 563.5 L642.86 559.71 L645.36 557.27Z" fill="#000"/>
<line x1="695.7" y1="516.8" x2="649" y2="564.3" stroke="#000" stroke-width="0.9" stroke-linecap="butt"/>
<line x1="691" y1="511" x2="695.7" y2="516.8" stroke="#000" stroke-width="2.4" stroke-linecap="butt"/>
<line x1="654.5" y1="516" x2="684.6" y2="546" stroke="#000" stroke-width="0.9" stroke-linecap="butt"/>
<path d="M668 531 L662.52 527.99 L664.99 525.52Z" fill="#000"/>
<path d="M680.7 543 L686.18 546.01 L683.71 548.48Z" fill="#000"/>
<line x1="691" y1="512" x2="671" y2="532" stroke="#000" stroke-width="0.9" stroke-linecap="butt"/>
<text x="616.62" y="527.58" font-size="14.3" font-weight="bold" stroke="#000" stroke-width="0.35" textLength="24" lengthAdjust="spacingAndGlyphs" text-anchor="middle" transform="rotate(45 616.62 527.58)" fill="#000">250</text>
<text x="633.03" y="534.27" font-size="8.5" font-weight="bold" stroke="#000" stroke-width="0.35" textLength="10" lengthAdjust="spacingAndGlyphs" text-anchor="middle" transform="rotate(45 633.03 534.27)" fill="#000">+20</text>
<text x="639.88" y="523.94" font-size="14.3" font-weight="bold" stroke="#000" stroke-width="0.35" textLength="15" lengthAdjust="spacingAndGlyphs" text-anchor="middle" transform="rotate(44 639.88 523.94)" fill="#000">85</text>
<text x="649.47" y="533.2" font-size="8.5" font-weight="bold" stroke="#000" stroke-width="0.35" textLength="11" lengthAdjust="spacingAndGlyphs" text-anchor="middle" transform="rotate(44 649.47 533.2)" fill="#000">±10</text>
<text x="658.52" y="516.68" font-size="14.3" font-weight="bold" stroke="#000" stroke-width="0.35" textLength="7.5" lengthAdjust="spacingAndGlyphs" text-anchor="middle" transform="rotate(45 658.52 516.68)" fill="#000">6</text>
<circle cx="714.9" cy="516.7" r="7.4" stroke="#000" stroke-width="1.4" fill="none"/>
<text x="714.9" y="521.4" font-size="13.5" font-weight="bold" stroke="#000" stroke-width="0.35" text-anchor="middle" fill="#000">3</text>
<text x="40.5" y="610.6" font-size="8.3" textLength="96" lengthAdjust="spacingAndGlyphs" fill="#000" stroke="#000" stroke-width="0.25">Alle Maße haben die Einheit mm.</text>
<rect x="35.7" y="624" width="684" height="61.5" fill="none" stroke="#000" stroke-width="1.5"/>
<line x1="35.7" y1="639.5" x2="719.7" y2="639.5" stroke="#000" stroke-width="1.5" stroke-linecap="butt"/>
<line x1="35.7" y1="655.5" x2="719.7" y2="655.5" stroke="#000" stroke-width="1.5" stroke-linecap="butt"/>
<line x1="35.7" y1="670.5" x2="719.7" y2="670.5" stroke="#000" stroke-width="1.5" stroke-linecap="butt"/>
<line x1="84.5" y1="624" x2="84.5" y2="685.5" stroke="#000" stroke-width="1.5" stroke-linecap="butt"/>
<text x="37.8" y="635.9" font-size="10.5" font-weight="bold" stroke="#000" stroke-width="0.35" text-anchor="start" fill="#000">1</text>
<text x="87.4" y="635.9" font-size="10.5" textLength="317.5" lengthAdjust="spacingAndGlyphs" text-anchor="start" fill="#000">Zubehörteil: Einströmdüse 96358-2-4013 nicht im Lieferumfang enthalten</text>
<text x="37.8" y="651.4" font-size="10.5" font-weight="bold" stroke="#000" stroke-width="0.35" text-anchor="start" fill="#000">2</text>
<text x="87.4" y="651.4" font-size="10.5" textLength="118.4" lengthAdjust="spacingAndGlyphs" text-anchor="start" fill="#000">Einschraubtiefe max. 5 mm</text>
<text x="37.8" y="666.9" font-size="10.5" font-weight="bold" stroke="#000" stroke-width="0.35" text-anchor="start" fill="#000">3</text>
<text x="87.4" y="666.9" font-size="10.5" textLength="132" lengthAdjust="spacingAndGlyphs" text-anchor="start" fill="#000">Anschlussleitung PVC AWG20</text>
<text x="87.4" y="682.4" font-size="10.5" textLength="72.6" lengthAdjust="spacingAndGlyphs" text-anchor="start" fill="#000">4x Aderendkralle</text>
<line x1="7.1" y1="526.5" x2="15.8" y2="526.5" stroke="#000" stroke-width="1.5" stroke-linecap="butt"/>
</svg>
</body></html>
